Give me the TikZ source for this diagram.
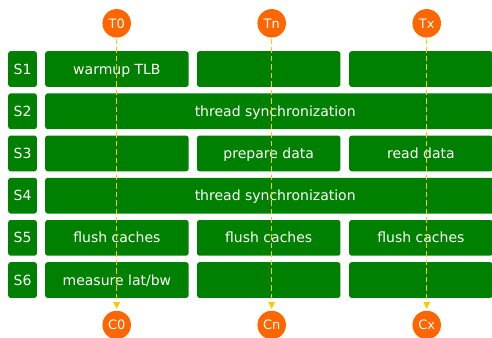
\documentclass[tikz,border=0pt]{standalone}
\usepackage{fontspec}
\setmainfont{DejaVu Sans}
\usetikzlibrary{arrows.meta}
\definecolor{boxgreen}{HTML}{008000}
\definecolor{threadorange}{HTML}{FF6600}
\definecolor{flowgold}{HTML}{FFC800}
\begin{document}
\begin{tikzpicture}[x=1pt,y=-1pt,
  stage/.style={fill=boxgreen, rounded corners=2.5pt, text=white,
    font=\fontsize{14}{16}\selectfont, minimum height=35.7pt,
    text height=10.2pt, text depth=0pt,
    inner sep=0pt, anchor=north west},
  steplabel/.style={stage, minimum width=28.7pt},
  cell/.style={stage, minimum width=143.4pt},
  span/.style={stage, minimum width=460pt},
  thr/.style={circle, fill=threadorange, text=white, minimum size=28.5pt,
    inner sep=0pt, text height=9.5pt, text depth=0pt,
    font=\fontsize{13}{15}\selectfont},
  flow/.style={draw=flowgold, line width=1.4pt, dash pattern=on 5.5pt off 3pt,
    -{Triangle[length=7pt,width=6.5pt]}, shorten >=1.5pt, shorten <=1pt}
]
\useasboundingbox (0,0) rectangle (492,337);
\clip (0,0) rectangle (492,337);

% step labels
\node[steplabel] (s1) at (8,51.0)  {S1};
\node[steplabel] (s2) at (8,93.2)  {S2};
\node[steplabel] (s3) at (8,135.4) {S3};
\node[steplabel] (s4) at (8,177.6) {S4};
\node[steplabel] (s5) at (8,219.8) {S5};
\node[steplabel] (s6) at (8,262.0) {S6};

% S1
\node[cell] (a1) at (45,51.0)    {warmup TLB};
\node[cell] (b1) at (196.8,51.0) {};
\node[cell] (c1) at (349,51.0)   {};
% S2
\node[span] (a2) at (45,93.2) {thread synchronization};
% S3
\node[cell] (a3) at (45,135.4)    {};
\node[cell] (b3) at (196.8,135.4) {prepare data};
\node[cell] (c3) at (349,135.4)   {read data};
% S4
\node[span] (a4) at (45,177.6) {thread synchronization};
% S5
\node[cell] (a5) at (45,219.8)    {flush caches};
\node[cell] (b5) at (196.8,219.8) {flush caches};
\node[cell] (c5) at (349,219.8)   {flush caches};
% S6
\node[cell] (a6) at (45,262.0)    {measure lat/bw};
\node[cell] (b6) at (196.8,262.0) {};
\node[cell] (c6) at (349,262.0)   {};

% threads and their cores
\node[thr] (t0) at (116.7,23.3) {T0};
\node[thr] (tn) at (271.7,23.3) {Tn};
\node[thr] (tx) at (426.7,23.3) {Tx};
\node[thr] (k0) at (116.7,325) {C0};
\node[thr] (kn) at (271.7,325) {Cn};
\node[thr] (kx) at (426.7,325) {Cx};

\draw[flow] (t0) -- (k0);
\draw[flow] (tn) -- (kn);
\draw[flow] (tx) -- (kx);
\end{tikzpicture}
\end{document}
